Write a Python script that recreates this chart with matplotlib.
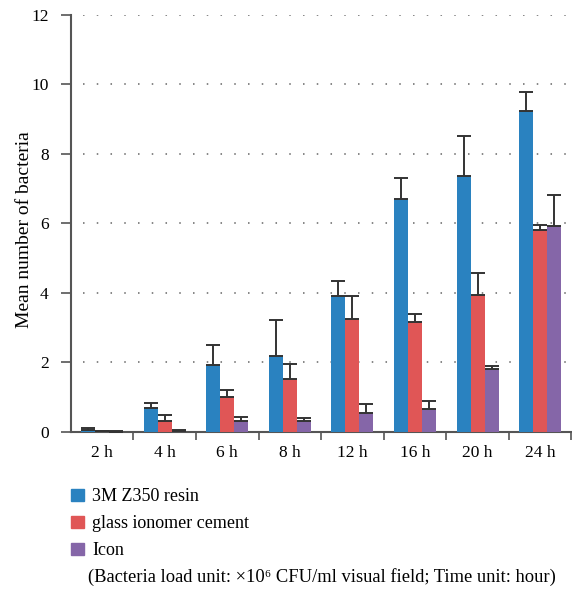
import numpy as np
import matplotlib
matplotlib.use("Agg")
import matplotlib.pyplot as plt
from matplotlib.patches import Patch

plt.rcParams['font.family'] = ['Liberation Serif', 'DejaVu Serif']

# Mean bacteria counts (x10^6 CFU/ml) and upper error bars per time point
times = ["2 h", "4 h", "6 h", "8 h", "12 h", "16 h", "20 h", "24 h"]
resin = [0.07, 0.70, 1.94, 2.19, 3.92, 6.71, 7.37, 9.24]
resin_err = [0.05, 0.13, 0.55, 1.02, 0.41, 0.59, 1.13, 0.55]
glass = [0.02, 0.33, 1.02, 1.53, 3.26, 3.17, 3.95, 5.82]
glass_err = [0.01, 0.16, 0.19, 0.43, 0.64, 0.22, 0.61, 0.14]
icon = [0.01, 0.04, 0.33, 0.33, 0.56, 0.67, 1.82, 5.93]
icon_err = [0.01, 0.01, 0.10, 0.07, 0.25, 0.21, 0.09, 0.89]

series = [("3M Z350 resin", resin, resin_err, "#2a82c0"),
          ("glass ionomer cement", glass, glass_err, "#e05656"),
          ("Icon", icon, icon_err, "#8566a8")]

fig = plt.figure(figsize=(5.72, 5.91), dpi=100)
ax = fig.add_axes([0.124, 0.269, 0.875, 0.706])

x = np.arange(len(times))
w = 0.224
for i, (name, vals, err, col) in enumerate(series):
    pos = x + (i - 1) * w
    ax.bar(pos, vals, width=w, color=col, zorder=3)
    ax.errorbar(pos, vals, yerr=[np.zeros(len(err)), err], fmt="none",
                ecolor="#333333", elinewidth=1.4, capsize=5, capthick=1.4, zorder=4)

ax.set_xlim(-0.5, 7.5)
ax.set_ylim(0, 12)
ax.set_yticks(np.arange(0, 13, 2))
ax.set_xticks(x)
ax.set_xticklabels(times, fontsize=12.5)
ax.set_xticks(np.arange(0.5, 8, 1), minor=True)
ax.tick_params(axis="x", which="major", length=0, pad=9)
ax.tick_params(axis="x", which="minor", length=6, width=1.2, color="#555555", direction="out")
ax.tick_params(axis="y", length=7, width=1.2, color="#555555", labelsize=12.5, pad=9)

# dotted horizontal guides
for g in np.arange(2, 13, 2):
    ax.plot([-0.31, 7.5], [g, g], linestyle=(0, (1, 8)),
            color="#666666", linewidth=1.1, zorder=1)

for s in ["top", "right"]:
    ax.spines[s].set_visible(False)
for s in ["left", "bottom"]:
    ax.spines[s].set_color("#555555")
    ax.spines[s].set_linewidth(1.5)

ax.set_ylabel("Mean number of bacteria", fontsize=14)
ax.yaxis.set_label_coords(-0.076, 0.485)

handles = [Patch(color=c, label=n) for n, _, _, c in series]
fig.legend(handles=handles, loc="upper left", bbox_to_anchor=(0.112, 0.186),
           frameon=False, fontsize=13, handlelength=0.7, handleheight=0.7,
           handletextpad=0.45, labelspacing=0.55, borderaxespad=0)

fig.text(0.153, 0.015, "(Bacteria load unit: \u00d710\u2076 CFU/ml visual field; Time unit: hour)",
         fontsize=13.3, ha="left", va="baseline")

fig.savefig("out.png", dpi=100)
